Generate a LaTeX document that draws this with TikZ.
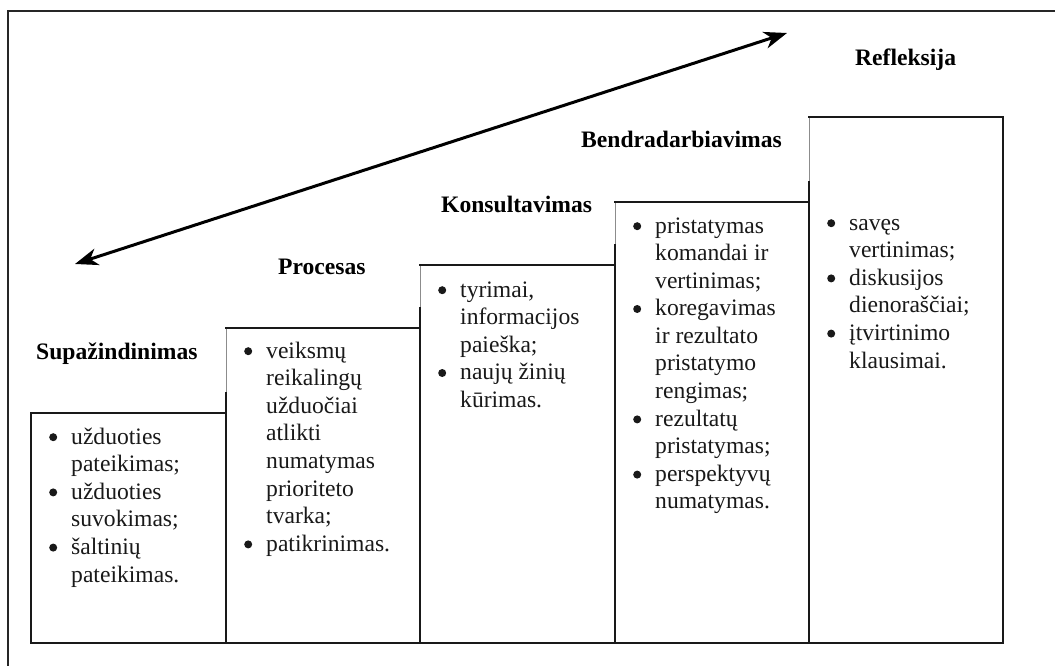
\documentclass[tikz,border=0pt]{standalone}
\usepackage{fontspec}
\setmainfont{Liberation Serif}
\usetikzlibrary{arrows.meta}

% round bullet and hanging indent for the list lines
\newcommand{\bul}{\makebox[22pt][l]{\tikz[baseline=-6.8pt]\fill[black!90] (4pt,0pt) circle (4pt);}}
\newcommand{\hang}{\hspace*{22pt}}

\tikzset{
  x=1pt, y=-1pt,
  frame line/.style={line width=1.4pt, draw=black!85},
  box line/.style={line width=1.8pt, draw=black!90, line cap=rect},
  thin edge/.style={line width=0.8pt, draw=black!45},
  stage title/.style={font=\fontsize{23.6}{27.6}\selectfont\bfseries, anchor=base west, inner sep=0pt},
  stage list/.style={font=\fontsize{23.6}{27.6}\selectfont, text=black!90, anchor=base west, inner sep=0pt},
  two way/.style={line width=3pt, {Stealth[length=23pt,width=17pt,inset=7pt]}-{Stealth[length=23pt,width=17pt,inset=7pt]}}
}

\begin{document}
\begin{tikzpicture}
\useasboundingbox (0,0) rectangle (1055,666);
\fill[white] (0,0) rectangle (1055,666);

% outer frame, open to the right and bottom
\draw[frame line] (8,670) -- (8,11) -- (1060,11);

% the five steps: left x, right x, top y; all stand on y = 643
\draw[box line] (31,643) rectangle (226,413);
% step 2
\draw[thin edge] (226,328) -- (226,393);
\draw[box line] (226,393) -- (226,643) -- (420,643) -- (420,328) -- (226,328);
% step 3
\draw[thin edge] (420,265) -- (420,308);
\draw[box line] (420,308) -- (420,643) -- (615,643) -- (615,265) -- (420,265);
% step 4
\draw[thin edge] (615,202) -- (615,245);
\draw[box line] (615,245) -- (615,643) -- (809,643) -- (809,202) -- (615,202);
% step 5
\draw[thin edge] (809,117) -- (809,182);
\draw[box line] (809,182) -- (809,643) -- (1003,643) -- (1003,117) -- (809,117);

% step titles
\node[stage title] (t1) at (36,359) {Supažindinimas};
\node[stage title] (t2) at (278,274) {Procesas};
\node[stage title] (t3) at (441,212) {Konsultavimas};
\node[stage title] (t4) at (581,148) {Bendradarbiavimas};
\node[stage title] (t5) at (855,66) {Refleksija};

% step contents
\node[stage list] (l1) at (49,444) {\begin{tabular}[t]{@{}l@{}}
\bul užduoties\\ \hang pateikimas;\\
\bul užduoties\\ \hang suvokimas;\\
\bul šaltinių\\ \hang pateikimas.
\end{tabular}};

\node[stage list] (l2) at (244,358) {\begin{tabular}[t]{@{}l@{}}
\bul veiksmų\\ \hang reikalingų\\ \hang užduočiai\\ \hang atlikti\\
\hang numatymas\\ \hang prioriteto\\ \hang tvarka;\\
\bul patikrinimas.
\end{tabular}};

\node[stage list] (l3) at (438,297) {\begin{tabular}[t]{@{}l@{}}
\bul tyrimai,\\ \hang informacijos\\ \hang paieška;\\
\bul naujų žinių\\ \hang kūrimas.
\end{tabular}};

\node[stage list] (l4) at (633,233) {\begin{tabular}[t]{@{}l@{}}
\bul pristatymas\\ \hang komandai ir\\ \hang vertinimas;\\
\bul koregavimas\\ \hang ir rezultato\\ \hang pristatymo\\ \hang rengimas;\\
\bul rezultatų\\ \hang pristatymas;\\
\bul perspektyvų\\ \hang numatymas.
\end{tabular}};

\node[stage list] (l5) at (827,230) {\begin{tabular}[t]{@{}l@{}}
\bul savęs\\ \hang vertinimas;\\
\bul diskusijos\\ \hang dienoraščiai;\\
\bul įtvirtinimo\\ \hang klausimai.
\end{tabular}};

% two-headed arrow along the steps
\coordinate (lo) at (75,264);
\coordinate (hi) at (787,33);
\draw[two way] (lo) -- (hi);
\end{tikzpicture}
\end{document}
